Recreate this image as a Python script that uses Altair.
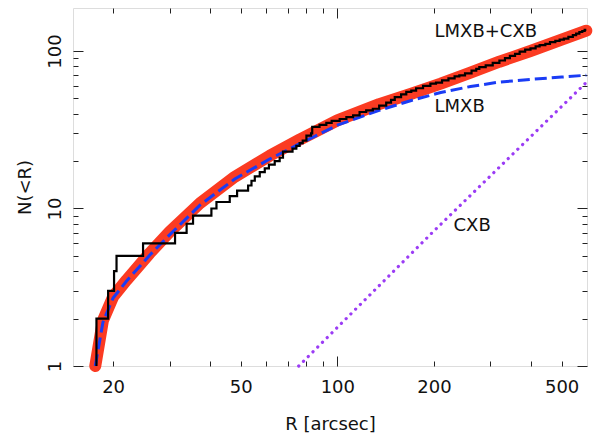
import altair as alt
import pandas as pd

# ---- data ----
# total model (LMXB + CXB), red
tot_R = [17.6, 18.6, 20.0, 22.0, 26.0, 30.0, 37.3, 47.9, 61.5, 76.3, 100.0, 135.0,
         170.0, 210.0, 260.0, 320.0, 400.0, 500.0, 597.0]
tot_N = [1.0, 1.95, 2.75, 3.5, 5.2, 7.1, 10.8, 15.9, 21.6, 27.4, 36.3, 46.0,
         53.5, 62.0, 73.0, 85.5, 100.0, 118.0, 134.6]
# LMXB model, blue dashed
lmxb_R = [17.6, 18.6, 20.0, 22.0, 26.0, 30.0, 37.3, 47.9, 61.5, 76.3, 100.0, 135.0,
          170.0, 210.0, 260.0, 320.0, 400.0, 500.0, 597.0]
lmxb_N = [1.0, 1.9, 2.7, 3.45, 5.05, 6.8, 10.5, 15.4, 20.6, 25.8, 33.8, 42.0,
          48.5, 54.5, 59.5, 63.5, 66.0, 68.3, 70.2]
# CXB model, purple dotted
cxb_R = [75.8, 198.6, 600.0]
cxb_N = [1.0, 7.1, 63.8]
# observed cumulative counts, black step line
obs_R = [17.75, 17.75, 19.3, 20.14, 20.5, 24.8, 31.2, 33.9, 35.5, 40.5, 42.0, 46.2, 48.7,
         52.7, 54.0, 55.3, 57.3, 59.4, 61.2, 63.8, 66.1, 67.7, 72.5, 74.5, 76.3, 78.0,
         80.1, 82.8, 83.5, 88.0, 92.4, 96.0, 101.7, 106.7, 112.0, 117.3, 123.0, 129.0,
         135.0, 142.0, 147.0, 151.0, 158.0, 164.0, 170.0, 176.0, 185.0, 195.0, 203.0,
         212.0, 222.0, 232.0, 240.0, 250.0, 262.0, 271.0, 277.0, 290.0, 305.0, 320.0,
         333.0, 345.0, 358.0, 370.0, 385.0, 400.0, 415.0, 427.0, 445.0, 460.0, 478.0,
         493.0, 508.0, 525.0, 542.0, 555.0, 568.0, 580.0, 590.0, 597.0]
obs_N = [1, 2, 3, 4, 5, 6, 7, 8, 9, 10, 11, 12, 13, 14, 15, 16, 17, 18, 19, 20, 21, 23,
         24, 25, 26, 27, 29, 30, 33, 34, 35, 36, 37, 38, 39, 41, 42, 43, 45, 47, 49, 51,
         53, 55, 56, 58, 60, 62, 63, 65, 67, 69, 70, 72, 75, 77, 79, 81, 84, 87, 90, 93,
         96, 99, 102, 104, 107, 109, 111, 114, 116, 118, 120, 123, 126, 129, 132, 134,
         136, 136]

# annotations
ann_text = ["LMXB+CXB", "LMXB", "CXB"]
ann_R = [200.9, 200.9, 230.2]
ann_N = [132.0, 44.1, 7.74]

# ticks / labels
x_labels = [20, 50, 100, 200, 500]
y_labels = [1, 10, 100]
x_major = [100]
x_minor = [20, 30, 40, 50, 60, 70, 80, 90, 200, 300, 400, 500]
y_major = [1, 10, 100]
y_minor = [2, 3, 4, 5, 6, 7, 8, 9, 20, 30, 40, 50, 60, 70, 80, 90]

FONT = "DejaVu Sans"
xs = alt.Scale(type="log", domain=[15, 600], nice=False)
ys = alt.Scale(type="log", domain=[1, 187.5], nice=False)

tot = pd.DataFrame({"R": tot_R, "N": tot_N})
lm = pd.DataFrame({"R": lmxb_R, "N": lmxb_N})
cx = pd.DataFrame({"R": cxb_R, "N": cxb_N})
ob = pd.DataFrame({"R": obs_R, "N": obs_N})
an = pd.DataFrame({"R": ann_R, "N": ann_N, "t": ann_text})


def tick_axis(orient, values, size):
    return alt.Axis(orient=orient, values=values, labels=False, domain=False,
                    ticks=True, tickSize=size, offset=-size, tickColor="#222",
                    tickWidth=1, grid=False, title=None)


lbl_x = alt.Axis(orient="bottom", values=x_labels, format="d", ticks=False, domain=False,
                 grid=False, labelFont=FONT, labelFontSize=18, labelColor="#111",
                 labelPadding=12, labelFlush=False, labelOverlap=False,
                 title="R [arcsec]", titleFont=FONT, titleFontSize=18,
                 titleFontWeight="normal", titleColor="#111", titlePadding=19)
lbl_y = alt.Axis(orient="left", values=y_labels, format="d", ticks=False, domain=False,
                 grid=False, labelFont=FONT, labelFontSize=18, labelColor="#111",
                 labelAngle=270, labelAlign="center", labelBaseline="bottom",
                 labelPadding=9, labelFlush=False, labelOverlap=False,
                 title="N(<R)", titleFont=FONT, titleFontSize=18, titleAngle=270,
                 titleBaseline="bottom", titleFontWeight="normal", titleColor="#111",
                 titlePadding=12)

red = alt.Chart(tot).mark_line(color="#fb3b22", strokeWidth=12, strokeCap="round",
                               strokeJoin="round").encode(
    x=alt.X("R:Q", scale=xs, axis=lbl_x),
    y=alt.Y("N:Q", scale=ys, axis=lbl_y),
)
blue = alt.Chart(lm).mark_line(color="#1a3cf5", strokeWidth=3, strokeDash=[12, 5]).encode(
    x=alt.X("R:Q", scale=xs, axis=tick_axis("bottom", x_major, 10)),
    y=alt.Y("N:Q", scale=ys, axis=tick_axis("left", y_major, 10)),
)
black = alt.Chart(ob).mark_line(color="black", strokeWidth=2.2,
                                interpolate="step-after").encode(
    x=alt.X("R:Q", scale=xs, axis=tick_axis("bottom", x_minor, 5)),
    y=alt.Y("N:Q", scale=ys, axis=tick_axis("left", y_minor, 5)),
)
purple = alt.Chart(cx).mark_line(color="#9b3cf5", strokeWidth=3.2, strokeDash=[0.1, 6.6],
                                 strokeCap="round").encode(
    x=alt.X("R:Q", scale=xs, axis=tick_axis("top", x_major, 10)),
    y=alt.Y("N:Q", scale=ys, axis=tick_axis("right", y_major, 10)),
)
text = alt.Chart(an).mark_text(font=FONT, fontSize=18, color="#111", align="left",
                               baseline="middle").encode(
    x=alt.X("R:Q", scale=xs, axis=tick_axis("top", x_minor, 5)),
    y=alt.Y("N:Q", scale=ys, axis=tick_axis("right", y_minor, 5)),
    text="t:N",
)

chart = alt.layer(red, blue, black, purple, text).resolve_axis(
    x="independent", y="independent"
).properties(
    width=514, height=358,
    autosize=alt.AutoSizeParams(type="none"),
    padding={"left": 65, "top": 0, "right": 10, "bottom": 70},
).configure_view(stroke="#222", strokeWidth=1.2).configure(background="white")

chart.save("out.html", embed_options={"renderer": "svg", "actions": False})
